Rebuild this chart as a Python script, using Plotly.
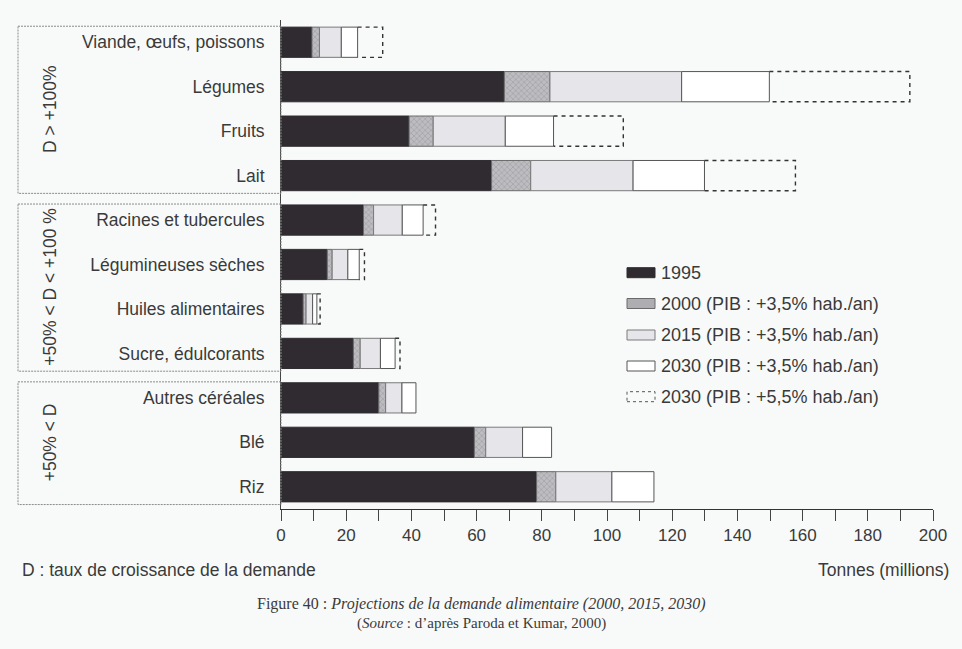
import plotly.graph_objects as go

# ---------------- data (cumulative demand, millions of tonnes) ----------------
categories = [
    "Viande, œufs, poissons", "Légumes", "Fruits", "Lait",
    "Racines et tubercules", "Légumineuses sèches", "Huiles alimentaires",
    "Sucre, édulcorants", "Autres céréales", "Blé", "Riz",
]
v1995 = [9.5, 68.5, 39.3, 64.6, 25.3, 14.2, 6.8, 22.2, 30.0, 59.3, 78.4]
v2000 = [11.8, 82.5, 46.7, 76.6, 28.4, 15.7, 7.7, 24.3, 32.1, 62.8, 84.3]
v2015 = [18.5, 122.9, 68.8, 108.0, 37.2, 20.5, 9.7, 30.5, 37.1, 74.1, 101.5]
v2030 = [23.5, 149.8, 83.6, 129.9, 43.6, 24.0, 11.0, 35.0, 41.4, 83.0, 114.4]
v2030_high = [31.2, 192.9, 105.0, 157.8, 47.4, 25.6, 12.0, 36.5, 41.4, 83.0, 114.4]

series_names = [
    "1995",
    "2000 (PIB : +3,5% hab./an)",
    "2015 (PIB : +3,5% hab./an)",
    "2030 (PIB : +3,5% hab./an)",
    "2030 (PIB : +5,5% hab./an)",
]
groups = ["D > +100%", "+50% < D < +100 %", "+50% < D"]
group_members = [[0, 1, 2, 3], [4, 5, 6, 7], [8, 9, 10]]
x_ticks = list(range(0, 201, 20))

# ---------------- styling ----------------
W, H = 962, 649
ML, MR, MT, MB = 281, 29, 20, 140
PW, PH = W - ML - MR, H - MT - MB
BG = "#f8faf9"
TXT = "#3a3a3a"
SANS = "Liberation Sans, Arial, sans-serif"
SERIF = "Liberation Serif, Times New Roman, serif"
BARW = 0.68
fills = ["#2f2b31", "#aeadb1", "#e6e6ea", "#ffffff"]
edges = ["#2f2b31", "#6a6a6a", "#7a7a7a", "#555555"]

def px_x(p):
    return (p - ML) / PW

def px_y(p):
    return 1 - (p - MT) / PH

idx = list(range(len(categories)))
fig = go.Figure()

levels = [v1995, v2000, v2015, v2030]
prev = [0.0] * len(categories)
for k, lev in enumerate(levels):
    inc = [a - b for a, b in zip(lev, prev)]
    marker = dict(color=fills[k], line=dict(color=edges[k], width=1))
    if k == 1:
        marker["pattern"] = dict(shape="x", fgcolor="#8e8d91", bgcolor="#bdbcc0",
                                 size=4, solidity=0.35)
    fig.add_trace(go.Bar(
        y=idx, x=inc, base=prev, orientation="h", width=BARW,
        marker=marker, name=series_names[k], showlegend=False,
        hoverinfo="skip",
    ))
    prev = lev

# dashed extension (2030, +5.5%)
xs, ys = [], []
h = BARW / 2
for i in idx:
    a, b = v2030[i], v2030_high[i]
    if b - a > 0.05:
        xs += [a, b, b, a, None]
        ys += [i - h, i - h, i + h, i + h, None]
fig.add_trace(go.Scatter(
    x=xs, y=ys, mode="lines", showlegend=False, hoverinfo="skip",
    line=dict(color="#333333", width=1.4, dash="4px,4px"),
))

shapes = []
annotations = []

# group boxes and vertical labels
box_left = px_x(18)
for g, members in zip(groups, group_members):
    top = members[0] - 0.36
    bot = members[-1] + 0.40
    shapes.append(dict(type="rect", xref="paper", yref="y",
                       x0=box_left, x1=0, y0=top, y1=bot,
                       line=dict(color="#8a8a8a", width=1, dash="2px,1px")))
    annotations.append(dict(xref="paper", yref="y", x=px_x(38),
                            y=(members[0] + members[-1]) / 2,
                            text=g, textangle=-90, showarrow=False,
                            font=dict(family=SANS, size=17.5, color=TXT)))

# manual legend
leg_rows = [272.7, 303.5, 335, 366, 396.7]
lx0, lx1 = px_x(627), px_x(655)
for k, (name, yc) in enumerate(zip(series_names, leg_rows)):
    y0, y1 = px_y(yc + 5), px_y(yc - 5)
    if k < 4:
        shapes.append(dict(type="rect", xref="paper", yref="paper",
                           x0=lx0, x1=lx1, y0=y0, y1=y1,
                           fillcolor=fills[k],
                           line=dict(color=edges[k], width=1)))
    else:
        shapes.append(dict(type="rect", xref="paper", yref="paper",
                           x0=lx0, x1=lx1, y0=y0, y1=y1,
                           fillcolor="rgba(0,0,0,0)",
                           line=dict(color="#555555", width=1, dash="3px,3px")))
    annotations.append(dict(xref="paper", yref="paper", x=px_x(659), y=px_y(yc),
                            xanchor="left", yanchor="middle", text=name,
                            showarrow=False,
                            font=dict(family=SANS, size=18, color=TXT)))

# bottom notes and caption
annotations += [
    dict(xref="paper", yref="paper", x=px_x(20), y=px_y(570), xanchor="left",
         yanchor="middle", showarrow=False, text="D : taux de croissance de la demande",
         font=dict(family=SANS, size=17.5, color=TXT)),
    dict(xref="paper", yref="paper", x=px_x(951), y=px_y(570), xanchor="right",
         yanchor="middle", showarrow=False, text="Tonnes (millions)",
         font=dict(family=SANS, size=17.5, color=TXT)),
    dict(xref="paper", yref="paper", x=px_x(481), y=px_y(604), xanchor="center",
         yanchor="middle", showarrow=False,
         text="Figure 40 : <i>Projections de la demande alimentaire (2000, 2015, 2030)</i>",
         font=dict(family=SERIF, size=16, color=TXT)),
    dict(xref="paper", yref="paper", x=px_x(481), y=px_y(623), xanchor="center",
         yanchor="middle", showarrow=False,
         text="(<i>Source</i> : d’après Paroda et Kumar, 2000)",
         font=dict(family=SERIF, size=15, color=TXT)),
]

fig.update_layout(
    width=W, height=H, autosize=False,
    margin=dict(l=ML, r=MR, t=MT, b=MB, pad=0),
    paper_bgcolor=BG, plot_bgcolor=BG,
    barmode="overlay", showlegend=False,
    shapes=shapes, annotations=annotations,
    xaxis=dict(range=[0, 200], tickvals=x_ticks, ticktext=[str(t) for t in x_ticks],
               showgrid=False, zeroline=False, showline=True, linecolor="#333",
               linewidth=1, ticks="outside", ticklen=11, tickcolor="#444",
               minor=dict(dtick=10, tick0=0, ticks="outside", ticklen=11,
                          tickcolor="#444", showgrid=False),
               tickfont=dict(family=SANS, size=17, color=TXT), fixedrange=True),
    yaxis=dict(range=[len(categories) - 0.5, -0.5], tickvals=idx, ticktext=categories,
               showgrid=False, zeroline=False, showline=True, linecolor="#444",
               linewidth=1, ticks="", ticklabelstandoff=12,
               tickfont=dict(family=SANS, size=17.5, color=TXT), fixedrange=True),
)

fig.write_html("out.html", post_script="document.body.style.margin='0';",
               config={"displayModeBar": False})
